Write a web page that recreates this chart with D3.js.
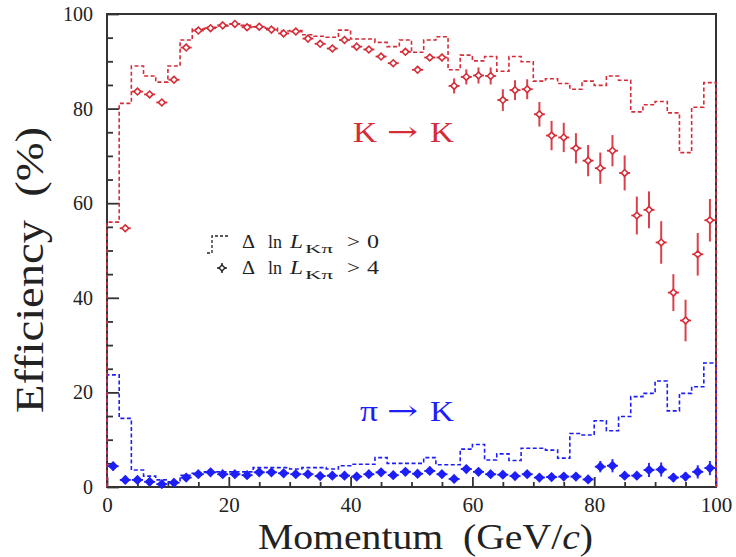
<!DOCTYPE html>
<html>
<head>
<meta charset="utf-8">
<script src="https://cdn.jsdelivr.net/npm/d3@7"></script>
<style>
  html, body { margin: 0; padding: 0; background: #fff; }
  svg { display: block; }
  text { font-family: "Liberation Serif", "Times New Roman", "DejaVu Serif", serif; }
</style>
</head>
<body>
<svg id="chart" width="736" height="557"></svg>
<script>
// ---------------- data ----------------
const binEdges = [0,2,4,6,8,10,12,14,16,18,20,22,24,26,28,30,32,34,36,38,40,42,44,46,48,50,
                  52,54,56,58,60,62,64,66,68,70,72,74,76,78,80,82,84,86,88,90,92,94,96,98,100];

// K -> K, Delta ln L > 0 (dashed histogram)
const kkHist = [56.0,81.1,89.0,86.9,85.6,89.0,94.5,96.8,97.2,97.5,97.9,97.6,97.3,97.0,96.4,96.5,
                95.6,95.3,95.1,96.6,94.7,94.7,94.0,93.1,94.5,91.9,94.5,95.2,88.2,91.3,90.1,91.0,
                87.9,91.0,89.9,85.8,86.3,85.3,84.1,85.8,84.9,86.9,86.0,79.3,80.8,81.5,79.1,70.7,
                80.3,85.5];

// pi -> K, Delta ln L > 0 (dashed histogram)
const pkHist = [23.7,14.5,3.6,2.3,1.5,1.1,2.5,2.9,3.2,3.2,3.2,3.2,4.1,4.1,4.1,3.8,4.1,4.1,3.8,4.5,
                4.8,4.8,6.2,5.0,5.0,5.0,6.2,4.7,4.7,8.0,9.0,5.7,7.0,5.6,8.2,8.2,7.8,6.1,11.3,11.0,
                14.0,11.9,14.9,19.1,19.8,22.4,16.1,19.8,21.2,26.2];

// K -> K, Delta ln L > 4 (points)
const kkMomentum = [3,5,7,9,11,13,15,17,19,21,23,25,27,29,31,33,35,37,39,41,43,45,47,49,51,53,55,
                    57,59,61,63,65,67,69,71,73,75,77,79,81,83,85,87,89,91,93,95,97,99];
const kkEff = [54.7,83.6,83.0,81.3,86.1,92.9,96.5,97.0,97.6,97.9,97.2,97.3,96.7,95.9,96.3,94.8,
               93.7,92.7,94.5,93.1,92.5,91.0,89.6,92.0,88.2,90.8,90.8,84.8,86.7,87.0,86.9,81.8,
               83.9,84.1,78.8,74.3,73.9,71.6,69.0,67.4,71.1,66.4,57.4,58.6,51.7,41.1,35.2,49.2,56.4];
const kkErr = [0.5,0.4,0.4,0.4,0.4,0.3,0.3,0.3,0.3,0.3,0.3,0.3,0.3,0.3,0.3,0.4,
               0.4,0.4,0.4,0.5,0.5,0.5,0.6,0.6,0.7,0.7,0.8,1.6,1.6,1.7,1.8,2.3,
               2.1,2.1,2.6,3.1,3.1,3.2,3.3,3.3,3.3,3.7,4.0,3.9,4.5,3.9,4.4,4.5,4.5];

// pi -> K, Delta ln L > 4 (points)
const pkMomentum = [1,3,5,7,9,11,13,15,17,19,21,23,25,27,29,31,33,35,37,39,41,43,45,47,49,
                    51,53,55,57,59,61,63,65,67,69,71,73,75,77,79,81,83,85,87,89,91,93,95,97,99];
const pkEff = [4.4,1.5,1.5,1.1,0.6,0.9,2.0,2.7,3.1,2.7,2.7,2.5,3.1,3.1,2.9,2.7,2.7,2.3,2.4,2.4,
               2.2,2.7,3.1,2.5,3.2,2.8,3.4,2.7,1.7,3.8,3.2,2.7,2.6,2.3,2.7,2.0,2.1,2.2,2.2,1.6,
               4.3,4.5,2.4,2.4,3.6,3.7,2.0,2.2,3.2,4.0];
const pkErr = [0.9,0.3,0.3,0.3,0.3,0.3,0.3,0.3,0.3,0.3,0.3,0.3,0.3,0.3,0.3,0.3,0.3,0.3,0.3,0.3,
               0.3,0.3,0.3,0.3,0.4,0.4,0.5,0.5,0.5,0.8,0.6,0.6,0.5,0.5,0.5,0.5,0.5,0.5,0.5,0.6,
               1.2,1.4,0.8,0.8,1.5,1.5,0.9,0.9,1.4,1.5];

const xMajorTicks = [0,20,40,60,80,100];
const yMajorTicks = [0,20,40,60,80,100];
const minorTicks = [5,10,15,25,30,35,45,50,55,65,70,75,85,90,95];

// ---------------- drawing ----------------
const RED = "#d62c38", BLUE = "#1e1ef8", AXIS = "#333", INK = "#222";
const SERIF = "'Liberation Serif', 'Times New Roman', serif";
const svg = d3.select("#chart");
const x = d3.scaleLinear().domain([0,100]).range([107,716]);
const y = d3.scaleLinear().domain([0,100]).range([487,14]);

// frame
svg.append("rect").attr("x", x(0)).attr("y", y(100))
  .attr("width", x(100)-x(0)).attr("height", y(0)-y(100))
  .attr("fill", "none").attr("stroke", AXIS).attr("stroke-width", 2);

// axes with inward ticks
const xAxisMajor = d3.axisBottom(x).tickValues(xMajorTicks).tickSize(-10).tickPadding(10).tickFormat(d3.format("d"));
const xAxisMinor = d3.axisBottom(x).tickValues(minorTicks).tickSize(-5).tickFormat("");
const yAxisMajor = d3.axisLeft(y).tickValues(yMajorTicks).tickSize(-12).tickPadding(14).tickFormat(d3.format("d"));
const yAxisMinor = d3.axisLeft(y).tickValues(minorTicks).tickSize(-6).tickFormat("");

function styleAxis(g, fs) {
  g.attr("font-family", SERIF);
  g.select(".domain").remove();
  g.selectAll(".tick line").attr("stroke", AXIS).attr("stroke-width", 1.8);
  g.selectAll(".tick text").attr("font-size", fs).attr("fill", INK).attr("font-family", SERIF);
}
svg.append("g").attr("transform", `translate(0,${y(0)})`).call(xAxisMinor).call(g => styleAxis(g, 0));
svg.append("g").attr("transform", `translate(0,${y(0)})`).call(xAxisMajor).call(g => styleAxis(g, 21));
svg.append("g").attr("transform", `translate(${x(0)},0)`).call(yAxisMinor).call(g => styleAxis(g, 0));
svg.append("g").attr("transform", `translate(${x(0)},0)`).call(yAxisMajor).call(g => styleAxis(g, 20));

// histograms (step)
function histPoints(vals) {
  const pts = [[binEdges[0], 0]];
  vals.forEach((v, i) => pts.push([binEdges[i], v]));
  pts.push([binEdges[binEdges.length-1], vals[vals.length-1]]);
  pts.push([binEdges[binEdges.length-1], 0]);
  return pts;
}
const step = d3.line().x(d => x(d[0])).y(d => y(d[1])).curve(d3.curveStepAfter);
svg.append("path").attr("d", step(histPoints(pkHist)))
  .attr("fill", "none").attr("stroke", BLUE).attr("stroke-width", 1.6).attr("stroke-dasharray", "4,2.5");
svg.append("path").attr("d", step(histPoints(kkHist)))
  .attr("fill", "none").attr("stroke", RED).attr("stroke-width", 1.6).attr("stroke-dasharray", "4,2.5");

// points
function drawPoints(mom, eff, err, color, filled) {
  const g = svg.append("g");
  mom.forEach((m, i) => {
    const cx = x(m), cy = y(eff[i]);
    g.append("line").attr("x1", cx).attr("x2", cx).attr("y1", y(eff[i]-err[i])).attr("y2", y(eff[i]+err[i]))
      .attr("stroke", color).attr("stroke-width", 2).attr("opacity", 0.9);
    g.append("line").attr("x1", cx-5.5).attr("x2", cx+5.5).attr("y1", cy).attr("y2", cy)
      .attr("stroke", color).attr("stroke-width", 1.8);
    const r = filled ? 4 : 3.4;
    g.append("path").attr("d", `M${cx},${cy-r}L${cx+r},${cy}L${cx},${cy+r}L${cx-r},${cy}Z`)
      .attr("fill", filled ? color : "#fff").attr("stroke", color).attr("stroke-width", 1.6);
  });
}
drawPoints(pkMomentum, pkEff, pkErr, BLUE, true);
drawPoints(kkMomentum, kkEff, kkErr, RED, false);

// reaction labels, pieces placed to match the reference's (horizontally wide) lettering
function reaction(first, x0, yb, color) {
  const t = svg.append("text").attr("y", yb).attr("font-size", 30).attr("fill", color);
  t.append("tspan").attr("x", x0).attr("textLength", first === "K" ? 24 : 18)
    .attr("lengthAdjust", "spacingAndGlyphs").text(first);
  t.append("tspan").attr("x", 387).attr("dy", -1).attr("font-family", "'DejaVu Serif', serif")
    .attr("font-size", 27).attr("textLength", 31).attr("lengthAdjust", "spacingAndGlyphs").text("→");
  t.append("tspan").attr("x", 430).attr("dy", 1).attr("textLength", 24)
    .attr("lengthAdjust", "spacingAndGlyphs").text("K");
}
reaction("K", 353, 142, RED);
reaction("π", 360, 421, BLUE);

// legend
svg.append("path").attr("d", "M207,253H212V236H228")
  .attr("fill", "none").attr("stroke", INK).attr("stroke-width", 1.3).attr("stroke-dasharray", "3,2");
(function () {
  const cx = 222, cy = 268, r = 3;
  svg.append("line").attr("x1", cx-5).attr("x2", cx+5).attr("y1", cy).attr("y2", cy).attr("stroke", INK).attr("stroke-width", 1.5);
  svg.append("line").attr("x1", cx).attr("x2", cx).attr("y1", cy-5).attr("y2", cy+5).attr("stroke", INK).attr("stroke-width", 1.5);
  svg.append("path").attr("d", `M${cx},${cy-r}L${cx+r},${cy}L${cx},${cy+r}L${cx-r},${cy}Z`)
    .attr("fill", "#fff").attr("stroke", INK).attr("stroke-width", 1.4);
})();
function legendText(yb, cut) {
  const t = svg.append("text").attr("y", yb).attr("font-size", 18).attr("fill", INK);
  const piece = (s, x0, w, opts = {}) => {
    const ts = t.append("tspan").attr("x", x0).attr("textLength", w).attr("lengthAdjust", "spacingAndGlyphs").text(s);
    if (opts.italic) ts.attr("font-style", "italic");
    if (opts.size) ts.attr("font-size", opts.size);
    if (opts.dy) ts.attr("dy", opts.dy);
    return ts;
  };
  piece("Δ", 242, 13);
  piece("ln", 268, 14);
  piece("L", 290, 13, {italic: true});
  piece("Kπ", 305, 28, {size: 13, dy: 5});
  piece(">", 347, 13, {dy: -5});
  piece(cut, 367, 12);
}
legendText(248, "0");
legendText(274, "4");

// axis titles
const xt = svg.append("text").attr("x", 258).attr("y", 549)
  .attr("font-size", 35).attr("fill", INK).attr("textLength", 335).attr("lengthAdjust", "spacingAndGlyphs");
xt.append("tspan").text("Momentum\u00a0\u00a0(GeV/");
xt.append("tspan").attr("font-style", "italic").text("c");
xt.append("tspan").text(")");

svg.append("text").attr("transform", "translate(43,413) rotate(-90)")
  .attr("font-size", 41).attr("fill", INK)
  .attr("textLength", 286).attr("lengthAdjust", "spacingAndGlyphs").text("Efficiency\u00a0\u00a0(%)");
</script>
</body>
</html>
